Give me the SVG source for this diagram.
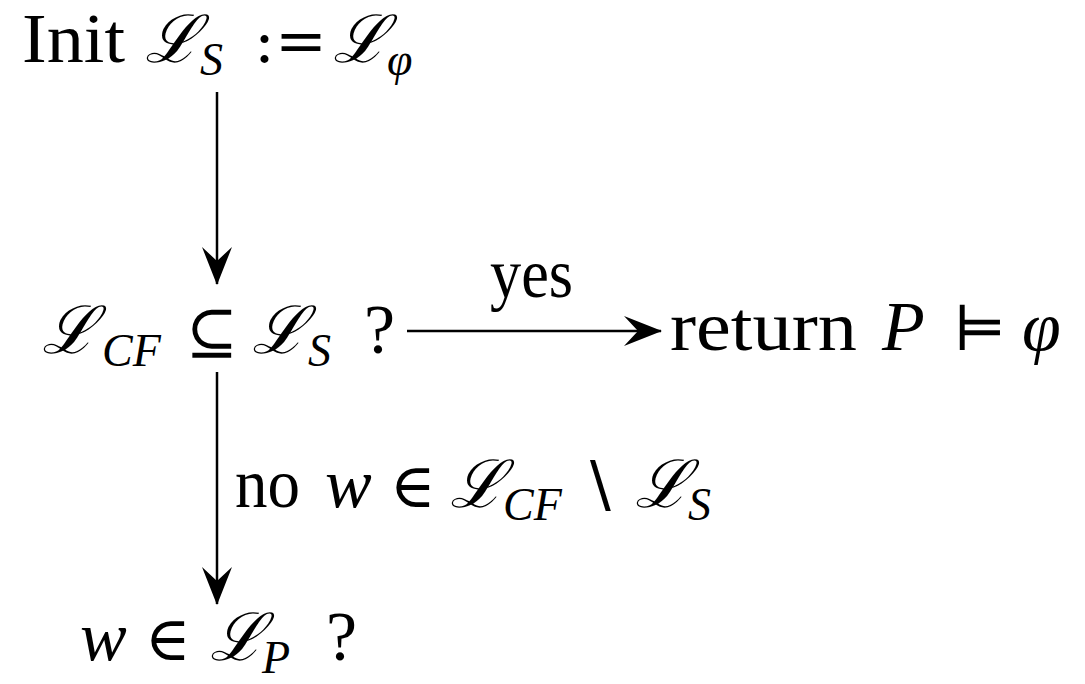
<svg xmlns="http://www.w3.org/2000/svg" width="1085" height="684" viewBox="0 0 1085 684">
<style>
text{font-family:"Liberation Serif","DejaVu Serif",serif;font-size:70px;fill:#000}
.i{font-style:italic}
.L{font-family:"DejaVu Serif",serif;font-style:italic;font-size:66px}
.s{font-style:italic;font-size:46px}
.m{font-family:"DejaVu Serif",serif;font-size:62px}
.c{stroke:#000;stroke-width:2.5;fill:none}
</style>
<defs>
<marker id="ah" viewBox="0 0 38 30" refX="37" refY="15" markerWidth="38" markerHeight="30" markerUnits="userSpaceOnUse" orient="auto">
<path d="M38,15 L0,0 L14,15 L0,30 Z" fill="#000"/>
</marker>
</defs>
<rect width="1085" height="684" fill="#fff"/>
<g id="connectors">
<line class="c" x1="217" y1="92" x2="217" y2="284" marker-end="url(#ah)"/>
<line class="c" x1="217" y1="372" x2="217" y2="604" marker-end="url(#ah)"/>
<line class="c" x1="407" y1="331" x2="661" y2="331" marker-end="url(#ah)"/>
</g>
<g id="init">
<text x="22" y="62" textLength="103" lengthAdjust="spacingAndGlyphs">Init</text>
<text class="L" x="145" y="62">ℒ</text>
<text class="s" x="200" y="75">S</text>
<text class="m" x="254" y="62">:=</text>
<text class="L" x="333" y="62">ℒ</text>
<text class="s" x="387" y="75">φ</text>
</g>
<g id="check">
<text class="L" x="42" y="353">ℒ</text>
<text class="s" x="102" y="366">CF</text>
<text class="m" x="186" y="353">⊆</text>
<text class="L" x="252" y="353">ℒ</text>
<text class="s" x="308" y="366">S</text>
<text x="364" y="353">?</text>
</g>
<g id="yes-label">
<text x="490" y="297" textLength="83" lengthAdjust="spacingAndGlyphs">yes</text>
</g>
<g id="return">
<text x="670" y="350" textLength="187" lengthAdjust="spacingAndGlyphs">return</text>
<text class="i" x="882" y="350">P</text>
<text class="m" x="953" y="350">⊨</text>
<text class="i" x="1022" y="350">φ</text>
</g>
<g id="no-label">
<text x="235" y="507" textLength="65" lengthAdjust="spacingAndGlyphs">no</text>
<text class="i" x="325" y="507">w</text>
<text class="m" x="390" y="507">∈</text>
<text class="L" x="450" y="507">ℒ</text>
<text class="s" x="503" y="520">CF</text>
<text class="m" x="578" y="507">∖</text>
<text class="L" x="635" y="507">ℒ</text>
<text class="s" x="688" y="520">S</text>
</g>
<g id="member">
<text class="i" x="80" y="660">w</text>
<text class="m" x="145" y="660">∈</text>
<text class="L" x="210" y="660">ℒ</text>
<text class="s" x="262" y="673">P</text>
<text x="326" y="660">?</text>
</g>
</svg>
